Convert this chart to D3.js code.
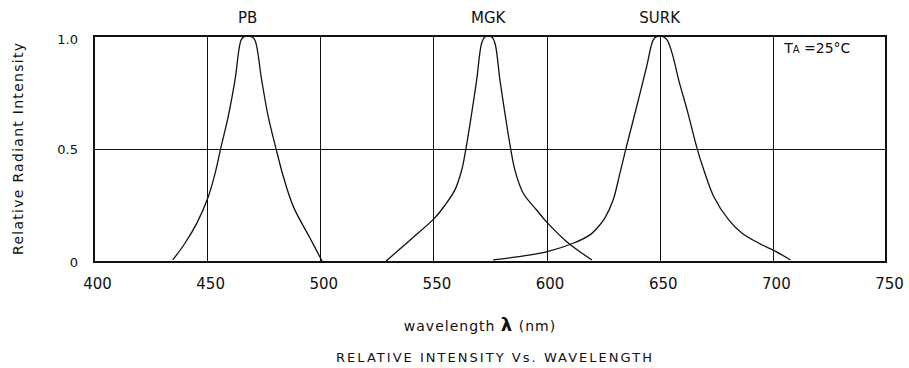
<!DOCTYPE html>
<meta charset="utf-8">
<script src="https://cdn.jsdelivr.net/npm/d3@7"></script>
<style>
  body { margin: 0; background: #fff; }
  svg text { font-family: "DejaVu Sans", "Liberation Sans", sans-serif; fill: #111; }
</style>
<div id="chart"></div>
<script>
// values (wavelength nm, relative intensity)
var seriesNames = ["PB", "MGK", "SURK"];
var pbWave = [434.8, 440.2, 445.4, 450.5, 453.5, 456, 459.3, 462.3, 465, 466.3, 467.9, 469.6, 471.1, 474.1, 477, 480.4, 483.7, 488.1, 495.5, 501];
var pbVal  = [0.009, 0.083, 0.171, 0.289, 0.392, 0.503, 0.643, 0.805, 0.982, 0.997, 1.0, 0.997, 0.982, 0.805, 0.643, 0.503, 0.377, 0.245, 0.105, 0];
var mgkWave = [528.6, 540, 550.4, 555, 559.5, 562.5, 564.4, 566.9, 569.1, 571.3, 572.7, 574.2, 575.8, 577.2, 579.4, 581.6, 584.1, 586, 589.7, 595.6, 600.3, 608.9, 620];
var mgkVal  = [0, 0.1, 0.193, 0.25, 0.319, 0.407, 0.503, 0.658, 0.805, 0.968, 0.996, 1.0, 0.996, 0.968, 0.805, 0.658, 0.503, 0.407, 0.304, 0.23, 0.174, 0.09, 0.009];
var surkWave = [576.4, 590, 600.3, 611.8, 619.2, 623.6, 625.8, 629.4, 632.4, 635.1, 639.8, 644.2, 647.1, 648.6, 650, 651.5, 653.3, 655.5, 658.4, 662.1, 666.5, 669.5, 673.9, 680.5, 686.4, 693.8, 701.4, 707.8];
var surkVal  = [0.009, 0.027, 0.046, 0.083, 0.12, 0.165, 0.195, 0.274, 0.392, 0.503, 0.687, 0.864, 0.982, 0.997, 1.0, 0.997, 0.982, 0.923, 0.805, 0.673, 0.503, 0.407, 0.289, 0.186, 0.127, 0.083, 0.046, 0.009];
var xTicks = [400, 450, 500, 550, 600, 650, 700, 750];
var yTicks = [0, 0.5, 1.0];
var yTickLabels = ["0", "0.5", "1.0"];

var W = 909, H = 368;
var margin = { top: 36, right: 23, bottom: 106, left: 94 };
var width = W - margin.left - margin.right,
    height = H - margin.top - margin.bottom;

var svg = d3.select("#chart").append("svg")
    .attr("width", W).attr("height", H);
var g = svg.append("g")
    .attr("transform", "translate(" + margin.left + "," + margin.top + ")");

var x = d3.scaleLinear().domain([400, 750]).range([0, width]);
var y = d3.scaleLinear().domain([0, 1]).range([height, 0]);

// grid
g.append("g").attr("class", "grid")
    .attr("transform", "translate(0," + height + ")")
    .call(d3.axisBottom(x).tickValues(xTicks).tickSize(-height).tickFormat(""))
    .call(function(s) { s.select(".domain").remove(); });
g.append("g").attr("class", "grid")
    .call(d3.axisLeft(y).tickValues(yTicks).tickSize(-width).tickFormat(""))
    .call(function(s) { s.select(".domain").remove(); });
g.selectAll(".grid line").attr("stroke", "#111").attr("stroke-width", 1).attr("shape-rendering", "crispEdges");

g.append("rect")
    .attr("x", 0).attr("y", 0).attr("width", width).attr("height", height)
    .attr("fill", "none").attr("stroke", "#111").attr("stroke-width", 1.2)
    .attr("shape-rendering", "crispEdges");

// tick labels
var xAxis = g.append("g")
    .attr("transform", "translate(3," + height + ")")
    .call(d3.axisBottom(x).tickValues(xTicks).tickSize(0).tickPadding(16));
xAxis.select(".domain").remove();
xAxis.selectAll("text").attr("font-size", 15).attr("font-family", null).attr("fill", "#111");

var yAxis = g.append("g")
    .call(d3.axisLeft(y).tickValues(yTicks).tickSize(0).tickPadding(16)
        .tickFormat(function(d, i) { return yTickLabels[i]; }));
yAxis.select(".domain").remove();
yAxis.selectAll("text").attr("font-size", 13).attr("font-family", null).attr("fill", "#111")
    .attr("dy", function(d) { return d === 1 ? "0.6em" : "0.32em"; });

// curves
var series = [
  { name: seriesNames[0], w: pbWave, v: pbVal },
  { name: seriesNames[1], w: mgkWave, v: mgkVal },
  { name: seriesNames[2], w: surkWave, v: surkVal }
];
var line = d3.line()
    .x(function(d) { return x(d[0]); })
    .y(function(d) { return y(d[1]); })
    .curve(d3.curveCatmullRom.alpha(0.5));

series.forEach(function(s) {
  var pts = s.w.map(function(w, i) { return [w, s.v[i]]; });
  g.append("path").datum(pts)
      .attr("d", line)
      .attr("fill", "none")
      .attr("stroke", "#111")
      .attr("stroke-width", 1.3);
  var peak = d3.greatest(pts, function(d) { return d[1]; });
  g.append("text")
      .attr("x", x(peak[0]))
      .attr("y", -13)
      .attr("text-anchor", "middle")
      .attr("font-size", 15)
      .text(s.name);
});

// TA = 25°C
var ta = g.append("text")
    .attr("x", x(705))
    .attr("y", 17)
    .attr("font-size", 14);
ta.append("tspan").text("T");
ta.append("tspan").attr("font-size", 10).text("A");
ta.append("tspan").text(" =25°C");

// axis titles
svg.append("text")
    .attr("transform", "translate(23,149) rotate(-90)")
    .attr("text-anchor", "middle")
    .attr("font-size", 14)
    .attr("textLength", 212)
    .attr("lengthAdjust", "spacing")
    .text("Relative Radiant Intensity");

var xt = svg.append("text")
    .attr("x", 480)
    .attr("y", 331)
    .attr("text-anchor", "middle")
    .attr("font-size", 14)
    .attr("letter-spacing", 1);
xt.append("tspan").text("wavelength ");
xt.append("tspan").attr("font-size", 18).attr("font-weight", "bold").text("λ");
xt.append("tspan").text(" (nm)");

svg.append("text")
    .attr("x", 494)
    .attr("y", 362)
    .attr("text-anchor", "middle")
    .attr("font-size", 13)
    .attr("textLength", 316)
    .attr("lengthAdjust", "spacing")
    .text("RELATIVE INTENSITY Vs. WAVELENGTH");
</script>
